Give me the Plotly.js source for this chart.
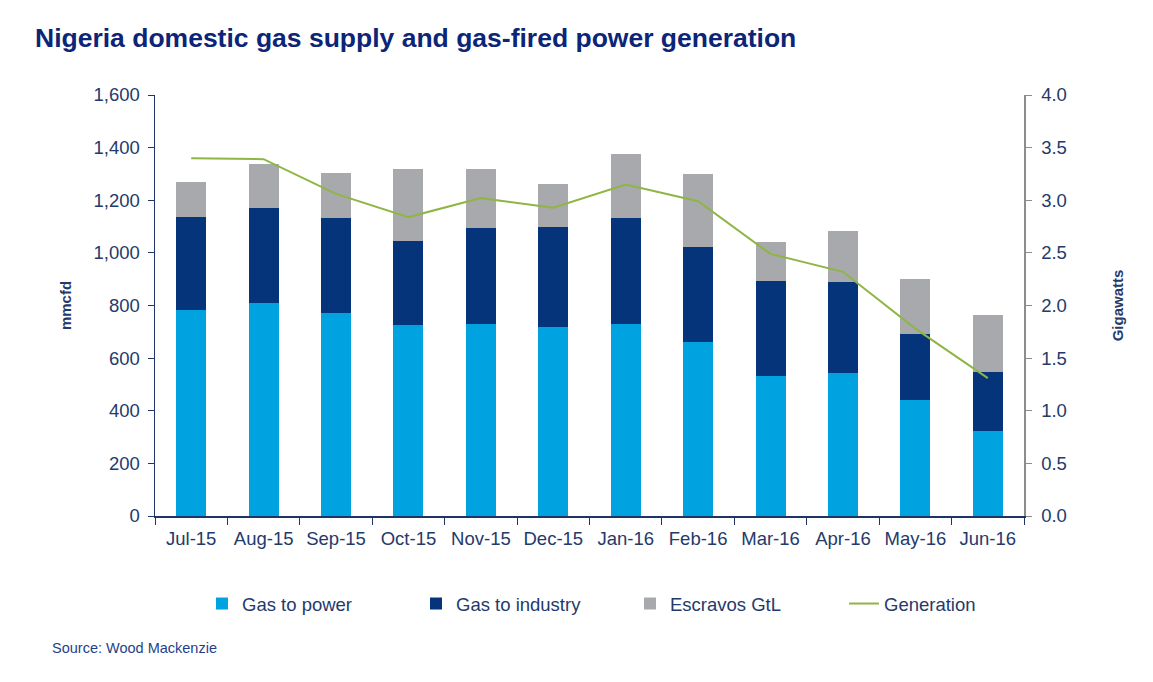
<!DOCTYPE html>
<html>
<head>
<meta charset="utf-8">
<script src="https://cdn.plot.ly/plotly-3.0.1.min.js"></script>
<style>html,body{margin:0;padding:0;background:#fff;}#chart{width:1153px;height:682px;}</style>
</head>
<body>
<div id="chart"></div>
<script>
const months = ["Jul-15","Aug-15","Sep-15","Oct-15","Nov-15","Dec-15","Jan-16","Feb-16","Mar-16","Apr-16","May-16","Jun-16"];
const gasToPower = [782, 808, 770, 725, 728, 717, 728, 660, 531, 543, 440, 322];
const gasToIndustry = [356, 364, 364, 322, 368, 383, 403, 364, 361, 345, 250, 224];
const escravosGtL = [133, 164, 171, 270, 224, 160, 246, 274, 148, 197, 209, 217];
const generation = [3.40, 3.39, 3.06, 2.84, 3.02, 2.93, 3.15, 2.99, 2.49, 2.32, 1.78, 1.31];

const textColor = "#243a6b";
const fontFam = "Liberation Sans, Arial, sans-serif";

const traces = [
  {type:"bar", name:"Gas to power", x:months, y:gasToPower, marker:{color:"#00a3e0"}, hoverinfo:"y"},
  {type:"bar", name:"Gas to industry", x:months, y:gasToIndustry, marker:{color:"#06347a"}, hoverinfo:"y"},
  {type:"bar", name:"Escravos GtL", x:months, y:escravosGtL, marker:{color:"#a8a9ad"}, hoverinfo:"y"},
  {type:"scatter", mode:"lines", name:"Generation", x:months, y:generation, yaxis:"y2", line:{color:"#8fb545", width:2}}
];

const layout = {
  width:1153, height:682,
  paper_bgcolor:"#fff", plot_bgcolor:"#fff",
  font:{family:fontFam, color:textColor, size:18.5},
  barmode:"stack", bargap:0.585,
  showlegend:true,
  margin:{l:155, r:129, t:95, b:166},
  title:{text:"<b>Nigeria domestic gas supply and gas-fired power generation</b>", x:35/1153, xanchor:"left", xref:"container", y:1-38/682, yanchor:"middle", yref:"container", font:{size:26.5, color:"#0c2577", family:fontFam}},
  xaxis:{
    showline:true, linecolor:"#1f3566", linewidth:1.5,
    ticks:"outside", tickson:"boundaries", ticklen:7, tickcolor:"#1f3566",
    ticklabelstandoff:5,
    tickfont:{size:18.5, color:textColor}, showgrid:false, fixedrange:true
  },
  yaxis:{
    range:[0,1600], dtick:200, tickformat:",d",
    showline:true, linecolor:"#1f3566", linewidth:1.5,
    ticks:"outside", ticklen:6, tickcolor:"#1f3566",
    ticklabelstandoff:4,
    tickfont:{size:18.5, color:textColor}, showgrid:false, zeroline:false,
    title:{text:"<b>mmcfd</b>", font:{size:15, color:textColor}, standoff:18}
  },
  yaxis2:{
    range:[0,4], dtick:0.5, tickformat:".1f", overlaying:"y", side:"right",
    showline:true, linecolor:"#8c8c8c", linewidth:1.5,
    ticks:"outside", ticklen:6, tickcolor:"#8c8c8c",
    ticklabelstandoff:6,
    tickfont:{size:18.5, color:textColor}, showgrid:false, zeroline:false,
    title:{text:"<b>Gigawatts</b>", font:{size:15, color:textColor}, standoff:46}
  },
  legend:{
    orientation:"h", xref:"container", yref:"container",
    x:202/1153, xanchor:"left", y:1-604/682, yanchor:"middle",
    entrywidth:169, entrywidthmode:"pixels", traceorder:"normal",
    font:{size:18.5, color:textColor}, itemwidth:30
  },
  annotations:[
    {text:"Source: Wood Mackenzie", xref:"paper", yref:"paper", x:(50-155)/869, y:(516-648)/421, xanchor:"left", yanchor:"middle", showarrow:false, font:{size:14.5, color:"#1f3f8a"}}
  ]
};

Plotly.newPlot("chart", traces, layout, {displayModeBar:false, staticPlot:true});
</script>
</body>
</html>
